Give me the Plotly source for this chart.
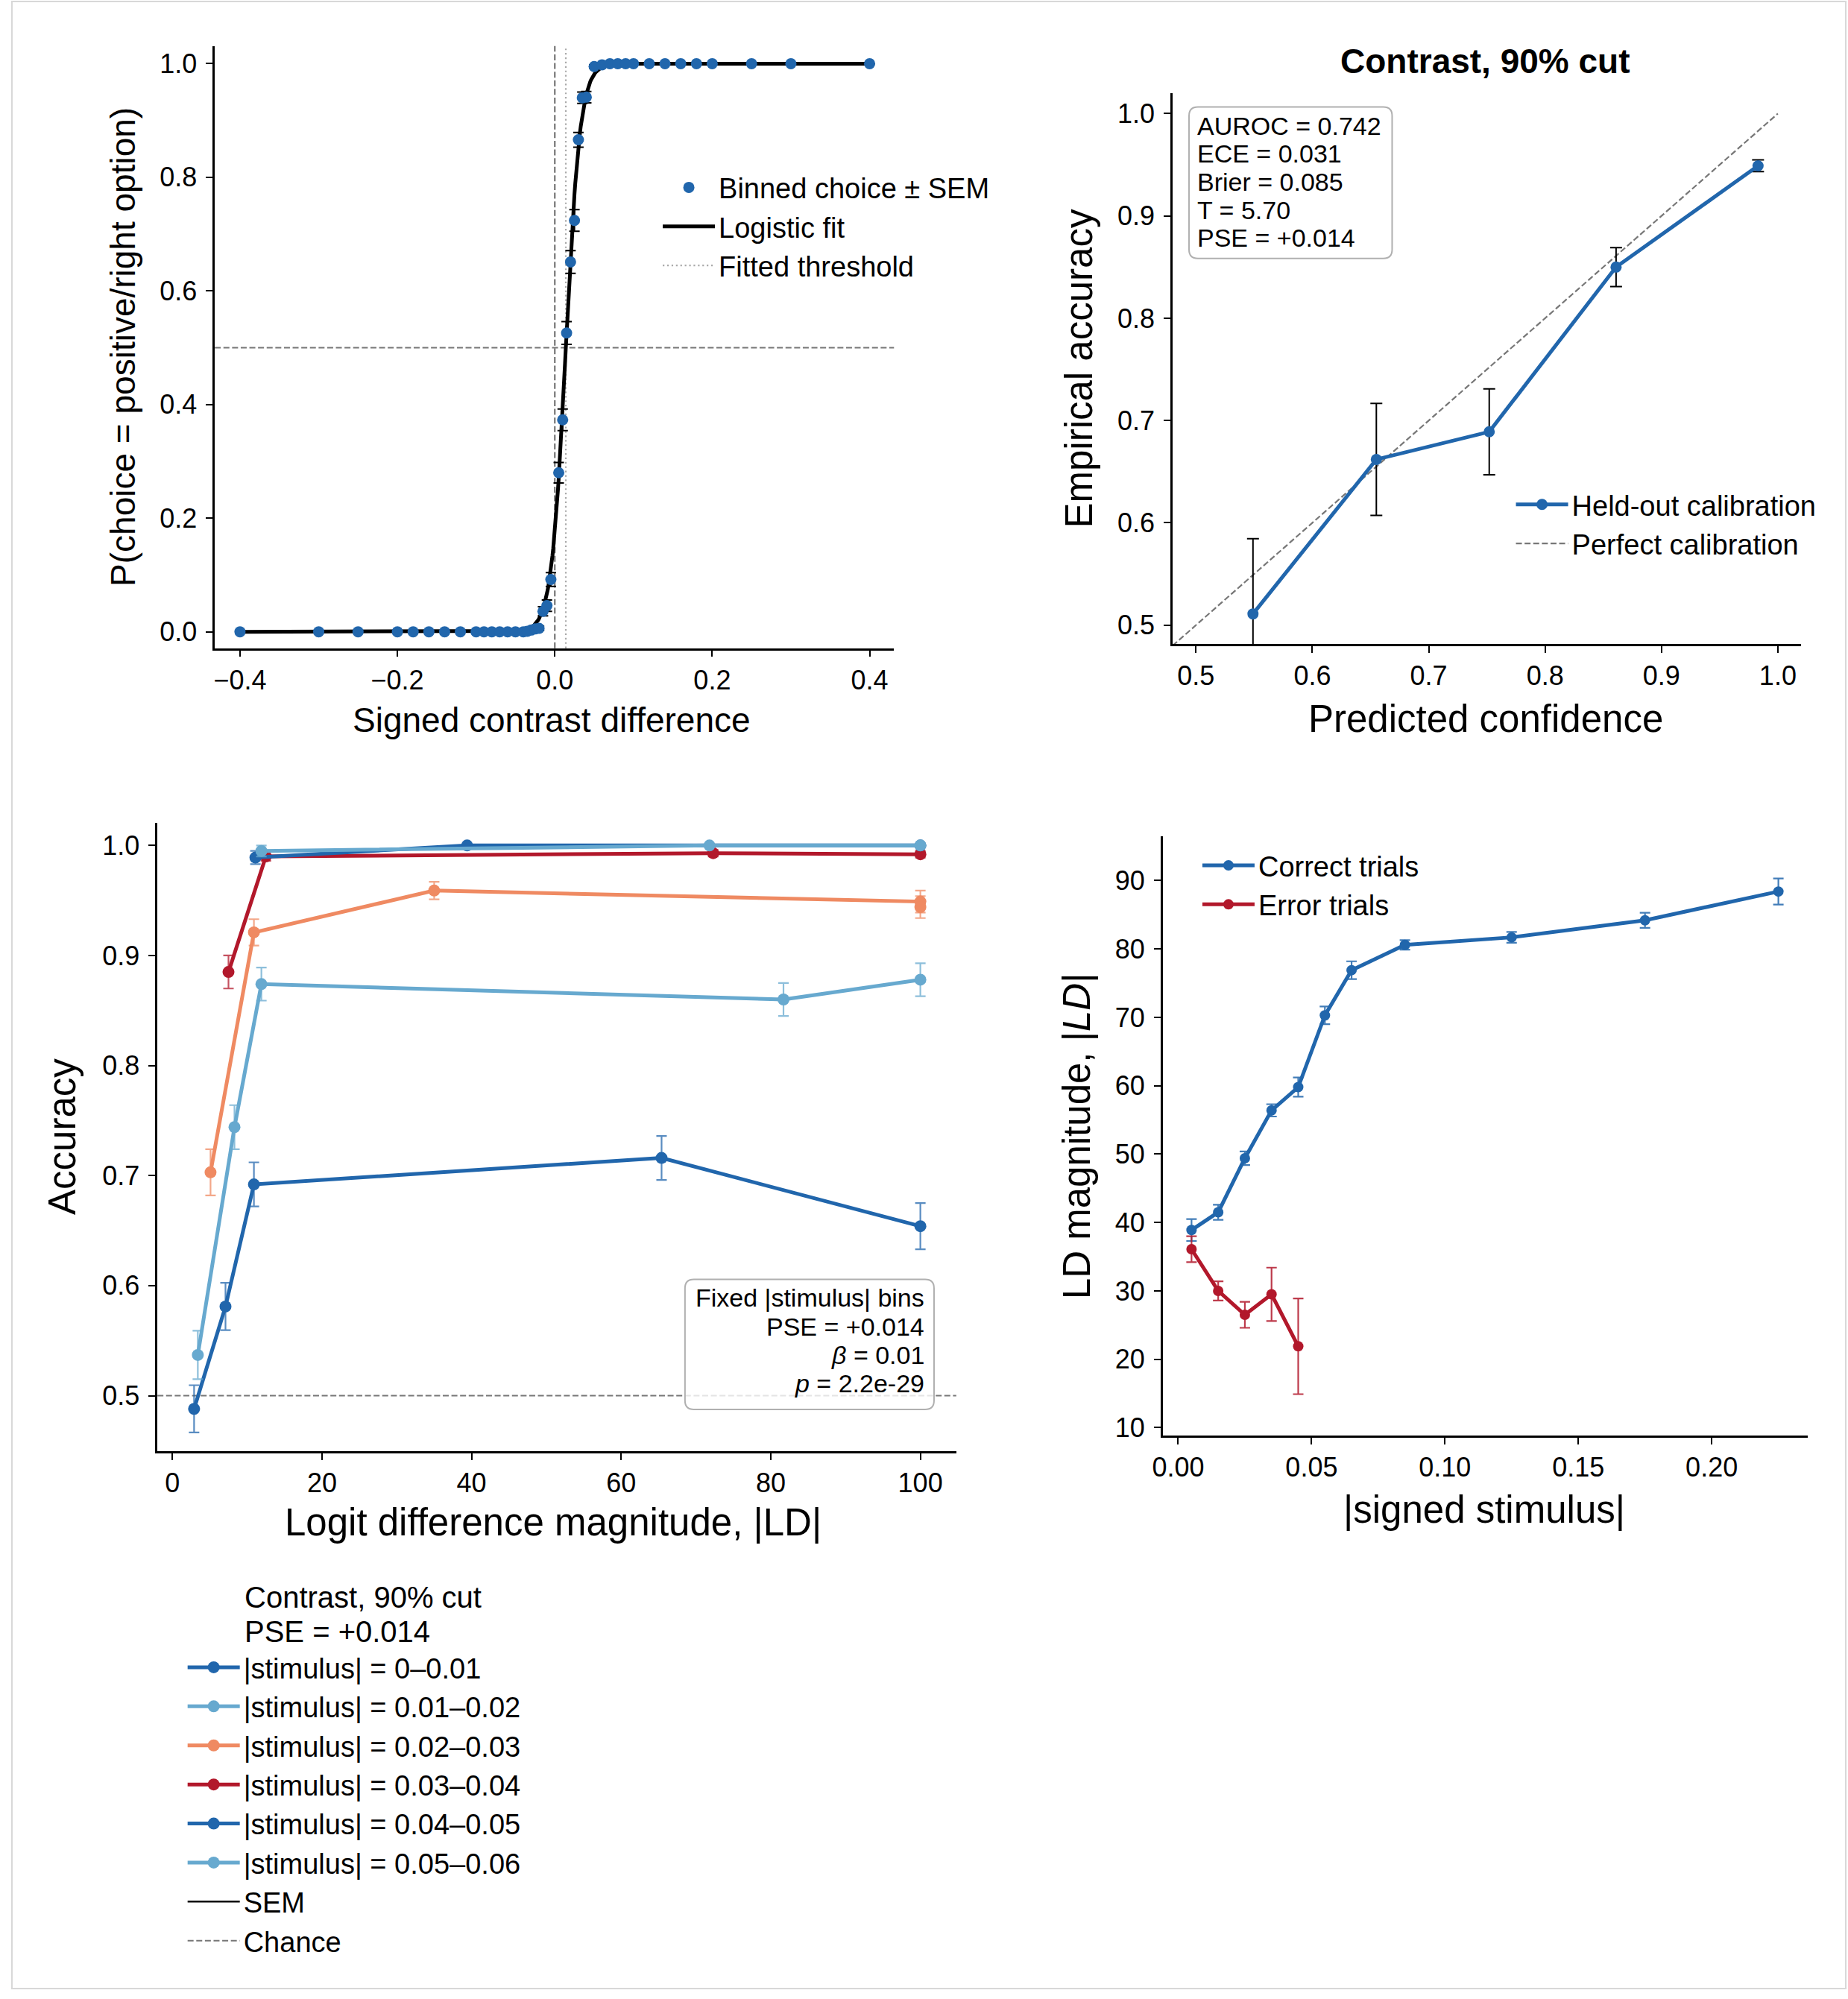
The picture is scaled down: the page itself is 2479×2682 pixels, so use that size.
import numpy as np
import plotly.graph_objects as go

W, H = 2479, 2682
FONT = "Liberation Sans, Arial, sans-serif"

# ---------------- Panel A: psychometric curve ----------------
stim_bins = [-0.4, -0.3, -0.25, -0.2, -0.18, -0.16, -0.14, -0.12, -0.1, -0.09, -0.08,
             -0.07, -0.06, -0.05, -0.04, -0.035, -0.03, -0.025, -0.02, -0.015, -0.01,
             -0.005, 0.005, 0.01, 0.015, 0.02, 0.025, 0.03, 0.035, 0.04, 0.05, 0.06,
             0.07, 0.08, 0.09, 0.1, 0.12, 0.14, 0.16, 0.18, 0.2, 0.25, 0.3, 0.4]
p_choice = [0.0, 0.0, 0.0, 0.0, 0.0, 0.0, 0.0, 0.0, 0.0, 0.0, 0.0,
            0.0, 0.0, 0.0, 0.0, 0.001, 0.003, 0.005, 0.006, 0.036, 0.046,
            0.092, 0.280, 0.373, 0.526, 0.651, 0.724, 0.866, 0.940, 0.941, 0.995, 0.998,
            1.0, 1.0, 1.0, 1.0, 1.0, 1.0, 1.0, 1.0, 1.0, 1.0, 1.0, 1.0]
p_sem = [0.0, 0.0, 0.0, 0.0, 0.0, 0.0, 0.0, 0.0, 0.0, 0.0, 0.0,
         0.0, 0.0, 0.0, 0.0, 0.001, 0.002, 0.003, 0.004, 0.008, 0.010,
         0.012, 0.018, 0.019, 0.020, 0.020, 0.019, 0.013, 0.010, 0.010, 0.003, 0.002,
         0.0, 0.0, 0.0, 0.0, 0.0, 0.0, 0.0, 0.0, 0.0, 0.0, 0.0, 0.0]
pse = 0.014
fit_slope = 110.0
chance = 0.5

# ---------------- Panel B: calibration ----------------
conf_bins = [0.549, 0.655, 0.752, 0.861, 0.983]
emp_acc = [0.511, 0.662, 0.689, 0.850, 0.949]
acc_sem = [0.0735, 0.0547, 0.042, 0.019, 0.0057]
diag = [0.0, 1.0]
metric_lines = ["AUROC = 0.742", "ECE = 0.031", "Brier = 0.085", "T = 5.70", "PSE = +0.014"]

# ---------------- Panel C: accuracy vs |LD| per stimulus bin ----------------
bin_labels = ["|stimulus| = 0–0.01", "|stimulus| = 0.01–0.02", "|stimulus| = 0.02–0.03",
              "|stimulus| = 0.03–0.04", "|stimulus| = 0.04–0.05", "|stimulus| = 0.05–0.06"]
bin_colors = ["#2166ac", "#67a9cf", "#ef8a62", "#b2182b", "#2166ac", "#67a9cf"]
ld_b1 = [2.9, 7.1, 10.9, 65.4, 100]
acc_b1 = [0.488, 0.581, 0.692, 0.716, 0.654]
sem_b1 = [0.0215, 0.0215, 0.020, 0.020, 0.021]
ld_b2 = [3.4, 8.3, 11.9, 81.7, 100]
acc_b2 = [0.537, 0.744, 0.874, 0.860, 0.878]
sem_b2 = [0.022, 0.020, 0.015, 0.015, 0.015]
ld_b3 = [5.1, 10.9, 35.0, 100, 100]
acc_b3 = [0.703, 0.921, 0.959, 0.949, 0.944]
sem_b3 = [0.021, 0.012, 0.008, 0.010, 0.010]
ld_b4 = [7.5, 12.5, 72.3, 100]
acc_b4 = [0.885, 0.990, 0.993, 0.992]
sem_b4 = [0.015, 0.004, 0.003, 0.003]
ld_b5 = [11.1, 39.4, 100]
acc_b5 = [0.989, 1.0, 1.0]
sem_b5 = [0.006, 0.0, 0.0]
ld_b6 = [11.9, 71.8, 100]
acc_b6 = [0.995, 1.0, 1.0]
sem_b6 = [0.005, 0.0, 0.0]
box_c_lines = ["Fixed |stimulus| bins", "PSE = +0.014", "<i>β</i> = 0.01", "<i>p</i> = 2.2e-29"]

# ---------------- Panel D: |LD| vs |stimulus| ----------------
abs_stim = [0.005, 0.015, 0.025, 0.035, 0.045, 0.055, 0.065, 0.085, 0.125, 0.175, 0.225]
ld_correct = [38.9, 41.5, 49.4, 56.4, 59.8, 70.3, 76.9, 80.6, 81.7, 84.2, 88.4]
ld_correct_sem = [1.6, 1.1, 1.0, 0.9, 1.4, 1.3, 1.3, 0.7, 0.8, 1.1, 1.9]
abs_stim_err = [0.005, 0.015, 0.025, 0.035, 0.045]
ld_error = [36.1, 30.0, 26.5, 29.5, 21.9]
ld_error_sem = [1.9, 1.4, 1.9, 3.9, 7.0]

BLUE = "#2166ac"
RED = "#b2182b"
TICK_SIZE = 36
LEG_SIZE = 38


def rgba(hexc, a):
    h = hexc.lstrip("#")
    return f"rgba({int(h[0:2],16)},{int(h[2:4],16)},{int(h[4:6],16)},{a})"


def px(x):
    return x / W


def py(y):
    return 1 - y / H


fig = go.Figure()

# ---- Panel A traces ----
x_fit = np.linspace(min(stim_bins), max(stim_bins), 801)
y_fit = 1.0 / (1.0 + np.exp(-fit_slope * (x_fit - pse)))
fig.add_trace(go.Scatter(x=x_fit, y=y_fit, mode="lines", line=dict(color="black", width=5),
                         xaxis="x", yaxis="y", showlegend=False, hoverinfo="skip"))
fig.add_trace(go.Scatter(x=stim_bins, y=p_choice, mode="markers",
                         marker=dict(color=BLUE, size=15),
                         error_y=dict(type="data", array=p_sem, color="black", thickness=2, width=7),
                         xaxis="x", yaxis="y", showlegend=False))
fig.add_trace(go.Scatter(x=[None], y=[None], mode="markers", marker=dict(color=BLUE, size=15),
                         name="Binned choice ± SEM", legend="legend", xaxis="x", yaxis="y"))
fig.add_trace(go.Scatter(x=[None], y=[None], mode="lines", line=dict(color="black", width=5),
                         name="Logistic fit", legend="legend", xaxis="x", yaxis="y"))
fig.add_trace(go.Scatter(x=[None], y=[None], mode="lines",
                         line=dict(color="#aaaaaa", width=2.2, dash="2.2px,3.7px"),
                         name="Fitted threshold", legend="legend", xaxis="x", yaxis="y"))

# ---- Panel B traces ----
fig.add_trace(go.Scatter(x=diag, y=diag, mode="lines",
                         line=dict(color="#777777", width=2.2, dash="8px,3.6px"),
                         xaxis="x2", yaxis="y2", showlegend=False, hoverinfo="skip"))
fig.add_trace(go.Scatter(x=conf_bins, y=emp_acc, mode="lines+markers",
                         line=dict(color=BLUE, width=5), marker=dict(color=BLUE, size=15),
                         error_y=dict(type="data", array=acc_sem, color="black", thickness=2, width=8),
                         xaxis="x2", yaxis="y2", showlegend=False))
fig.add_trace(go.Scatter(x=[None], y=[None], mode="lines+markers",
                         line=dict(color=BLUE, width=5), marker=dict(color=BLUE, size=15),
                         name="Held-out calibration", legend="legend2", xaxis="x2", yaxis="y2"))
fig.add_trace(go.Scatter(x=[None], y=[None], mode="lines",
                         line=dict(color="#777777", width=2.2, dash="8px,3.6px"),
                         name="Perfect calibration", legend="legend2", xaxis="x2", yaxis="y2"))

# ---- Panel C traces ----
series_c = [(ld_b1, acc_b1, sem_b1), (ld_b2, acc_b2, sem_b2), (ld_b3, acc_b3, sem_b3),
            (ld_b4, acc_b4, sem_b4), (ld_b5, acc_b5, sem_b5), (ld_b6, acc_b6, sem_b6)]
for (xs, ys, es), lab, col in zip(series_c, bin_labels, bin_colors):
    fig.add_trace(go.Scatter(x=xs, y=ys, mode="lines+markers",
                             line=dict(color=col, width=5), marker=dict(color=col, size=16),
                             error_y=dict(type="data", array=es, color=rgba(col, 0.75), thickness=2.2, width=7),
                             xaxis="x3", yaxis="y3", showlegend=False))
for lab, col in zip(bin_labels, bin_colors):
    fig.add_trace(go.Scatter(x=[None], y=[None], mode="lines+markers",
                             line=dict(color=col, width=5), marker=dict(color=col, size=16),
                             name=lab, legend="legend3", xaxis="x3", yaxis="y3"))
fig.add_trace(go.Scatter(x=[None], y=[None], mode="lines", line=dict(color="black", width=2.5),
                         name="SEM", legend="legend3", xaxis="x3", yaxis="y3"))
fig.add_trace(go.Scatter(x=[None], y=[None], mode="lines",
                         line=dict(color="#777777", width=2.2, dash="8px,3.6px"),
                         name="Chance", legend="legend3", xaxis="x3", yaxis="y3"))

# ---- Panel D traces ----
fig.add_trace(go.Scatter(x=abs_stim, y=ld_correct, mode="lines+markers",
                         line=dict(color=BLUE, width=5), marker=dict(color=BLUE, size=14),
                         error_y=dict(type="data", array=ld_correct_sem, color=rgba(BLUE, 0.85), thickness=2.2, width=7),
                         xaxis="x4", yaxis="y4", showlegend=False))
fig.add_trace(go.Scatter(x=abs_stim_err, y=ld_error, mode="lines+markers",
                         line=dict(color=RED, width=5), marker=dict(color=RED, size=14),
                         error_y=dict(type="data", array=ld_error_sem, color=rgba(RED, 0.85), thickness=2.2, width=7),
                         xaxis="x4", yaxis="y4", showlegend=False))
fig.add_trace(go.Scatter(x=[None], y=[None], mode="lines+markers",
                         line=dict(color=BLUE, width=5), marker=dict(color=BLUE, size=14),
                         name="Correct trials", legend="legend4", xaxis="x4", yaxis="y4"))
fig.add_trace(go.Scatter(x=[None], y=[None], mode="lines+markers",
                         line=dict(color=RED, width=5), marker=dict(color=RED, size=14),
                         name="Error trials", legend="legend4", xaxis="x4", yaxis="y4"))


# ---- Axes ----
def axis(domain, rng, tickvals, fmt, anchor, standoff=0):
    d = dict(domain=domain, range=rng, tickvals=tickvals, tickformat=fmt, anchor=anchor,
             showline=True, linecolor="black", linewidth=2.5, ticks="outside", ticklen=9,
             tickwidth=2, tickcolor="black", showgrid=False, zeroline=False, mirror=False,
             tickfont=dict(size=TICK_SIZE, color="black", family=FONT), fixedrange=True)
    if standoff:
        d["ticklabelstandoff"] = standoff
    return d


layout = dict(
    width=W, height=H, margin=dict(l=0, r=0, t=0, b=0),
    paper_bgcolor="white", plot_bgcolor="white",
    font=dict(family=FONT, color="black"),
    xaxis=axis([px(275.7), px(1192)], [-0.432, 0.431], [-0.4, -0.2, 0, 0.2, 0.4], ".1f", "y"),
    yaxis=axis([py(873), py(62)], [-0.029, 1.031], [0, 0.2, 0.4, 0.6, 0.8, 1.0], ".1f", "x", 5),
    xaxis2=axis([px(1567.8), px(2415.9)], [0.4799, 1.0201], [0.5, 0.6, 0.7, 0.8, 0.9, 1.0], ".1f", "y2"),
    yaxis2=axis([py(867.5), py(125.6)], [0.4814, 1.0199], [0.5, 0.6, 0.7, 0.8, 0.9, 1.0], ".1f", "x2", 5),
    xaxis3=axis([px(198.3), px(1276)], [-2.0, 104.8], [0, 20, 40, 60, 80, 100], "d", "y3"),
    yaxis3=axis([py(1954.2), py(1107.9)], [0.4496, 1.0207], [0.5, 0.6, 0.7, 0.8, 0.9, 1.0], ".1f", "x3", 5),
    xaxis4=axis([px(1554.5), px(2424.3)], [-0.0058, 0.2359], [0, 0.05, 0.1, 0.15, 0.2], ".2f", "y4"),
    yaxis4=axis([py(1933.3), py(1126.5)], [8.84, 96.45], [10, 20, 30, 40, 50, 60, 70, 80, 90], "d", "x4", 5),
)

leg_common = dict(bgcolor="rgba(0,0,0,0)", borderwidth=0, xanchor="left", yanchor="top",
                  tracegroupgap=0, itemwidth=70, font=dict(size=LEG_SIZE, family=FONT, color="black"))
layout["legend"] = dict(x=px(963 - 80 - 8), y=py(252 - 31), **leg_common)
layout["legend2"] = dict(x=px(2106 - 80), y=py(679 - 31), **leg_common)
layout["legend3"] = dict(x=px(322 - 80 - 8), y=py(2245 - 31), **leg_common)
layout["legend4"] = dict(x=px(1687 - 80 - 4), y=py(1165 - 31), **leg_common)

fig.update_layout(**layout)

# ---- Shapes ----
shapes = []
shapes.append(dict(type="rect", xref="paper", yref="paper", x0=px(2), x1=px(2476), y0=py(2678), y1=py(2),
                   line=dict(color="#d8d8d8", width=2), layer="below"))
shapes.append(dict(type="line", xref="x domain", yref="y", x0=0, x1=1, y0=chance, y1=chance,
                   line=dict(color="#777777", width=2.2, dash="8px,3.6px"), layer="below"))
shapes.append(dict(type="line", xref="x", yref="y domain", x0=0, x1=0, y0=0, y1=1,
                   line=dict(color="#777777", width=2.2, dash="8px,3.6px"), layer="below"))
shapes.append(dict(type="line", xref="x", yref="y domain", x0=pse, x1=pse, y0=0, y1=1,
                   line=dict(color="#aaaaaa", width=2.2, dash="2.2px,3.7px"), layer="below"))
shapes.append(dict(type="line", xref="x3 domain", yref="y3", x0=0, x1=1, y0=chance, y1=chance,
                   line=dict(color="#777777", width=2.2, dash="8px,3.6px"), layer="below"))


def rounded_box(x0, y0, x1, y1, r):
    def P(x, y):
        return f"{x / W:.6f},{1 - y / H:.6f}"
    return (f"M{P(x0 + r, y0)} L{P(x1 - r, y0)} Q{P(x1, y0)} {P(x1, y0 + r)} "
            f"L{P(x1, y1 - r)} Q{P(x1, y1)} {P(x1 - r, y1)} L{P(x0 + r, y1)} "
            f"Q{P(x0, y1)} {P(x0, y1 - r)} L{P(x0, y0 + r)} Q{P(x0, y0)} {P(x0 + r, y0)} Z")


shapes.append(dict(type="path", xref="paper", yref="paper", path=rounded_box(1590, 144, 1864, 348, 12),
                   line=dict(color="#b0b0b0", width=2), fillcolor="rgba(255,255,255,0.8)", layer="above"))
shapes.append(dict(type="path", xref="paper", yref="paper", path=rounded_box(910, 1723, 1246, 1898, 12),
                   line=dict(color="#b0b0b0", width=2), fillcolor="rgba(255,255,255,0.8)", layer="above"))
fig.update_layout(shapes=shapes)

# ---- Annotations ----
ann = []


def text(x, y, s, size, xanchor="center", angle=0, bold=False):
    if bold:
        s = f"<b>{s}</b>"
    ann.append(dict(x=px(x), y=py(y), xref="paper", yref="paper", text=s, showarrow=False,
                    xanchor=xanchor, yanchor="middle", textangle=angle,
                    font=dict(size=size, family=FONT, color="black")))


text(730, 970, "Signed contrast difference", 46)
text(152, 467.5, "P(choice = positive/right option)", 46, angle=-90)
text(1990, 968, "Predicted confidence", 51)
text(1442, 496.5, "Empirical accuracy", 51, angle=-90)
text(1990, 82, "Contrast, 90% cut", 46, bold=True)
text(732, 2050, "Logit difference magnitude, |LD|", 51)
text(70, 1531, "Accuracy", 51, angle=-90)
text(1988, 2033, "|signed stimulus|", 51)
text(1438, 1530, "LD magnitude, |<i>LD</i>|", 51, angle=-90)

for i, s in enumerate(metric_lines):
    text(1599, 169.5 + 37.7 * i, s, 34, xanchor="left")
for i, s in enumerate(box_c_lines):
    text(1235, 1748 + 38.3 * i, s, 34, xanchor="right")
text(314, 2151, "Contrast, 90% cut", 40, xanchor="left")
text(314, 2197, "PSE = +0.014", 40, xanchor="left")

fig.update_layout(annotations=ann)

fig.write_html("out.html")
